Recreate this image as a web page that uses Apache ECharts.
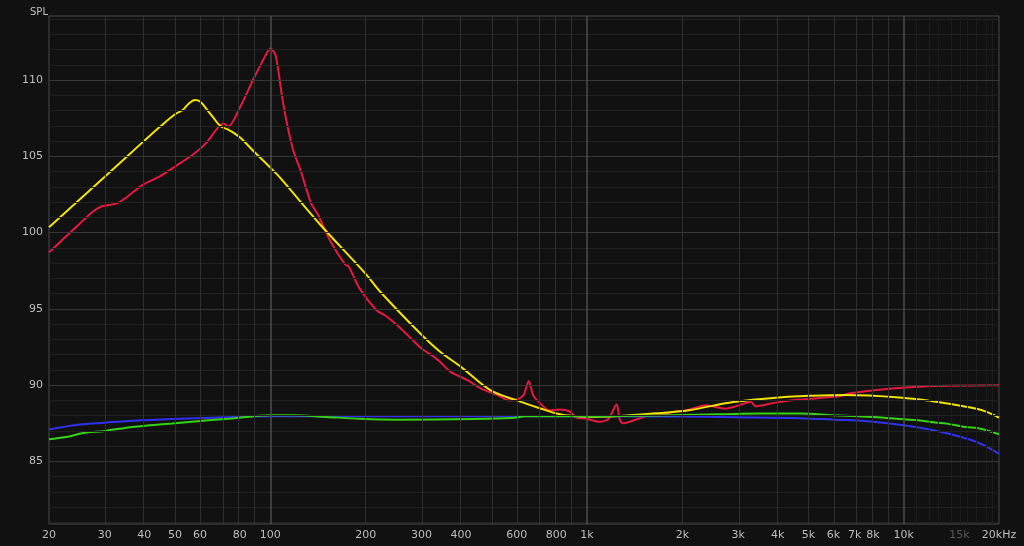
<!DOCTYPE html>
<html>
<head>
<meta charset="utf-8">
<script src="https://cdn.jsdelivr.net/npm/echarts@6/dist/echarts.min.js"></script>
<style>
html,body{margin:0;padding:0;background:#111111;}
#chart{width:1024px;height:546px;}
</style>
</head>
<body>
<div id="chart"></div>
<script>
// ---- Data (frequency in Hz, SPL in dB) ----
const redFreq = [20,23.9,27.6,29.4,32.6,35.1,39.3,44.9,50.6,56.9,62.9,67.8,71.1,73.7,80.6,88.4,90.6,97,100,104,108.8,112.7,118.3,124.5,134.3,141.2,156,172.5,176.8,191,216,233,257.5,285,300,323,343.6,371,419,463,524,565,600,630,655,676,713,760,820,880,920,995,1100,1170,1240,1270,1300,1410,1500,1620,1700,1870,2070,2370,2740,2900,3300,3400,3900,4700,6300,6700,7700,9700,12400,20000];
const redSPL  = [98.7,100.2,101.4,101.73,101.9,102.3,103.1,103.7,104.4,105.1,105.9,106.8,107.15,106.95,108.3,110.07,110.5,111.7,112.09,111.6,108.97,107.2,105.35,104.1,101.95,101.2,99.3,97.9,97.78,96.36,94.93,94.5,93.73,92.85,92.4,91.97,91.53,90.87,90.33,89.78,89.34,89.0,89.06,89.34,90.28,89.34,88.79,88.35,88.4,88.29,87.9,87.8,87.6,87.8,88.75,87.7,87.5,87.7,87.9,88.14,88.03,88.25,88.36,88.68,88.46,88.57,88.9,88.62,88.84,89.06,89.28,89.45,89.62,89.82,89.95,90.0];

const yellowFreq = [20,30,40,45,50,53,55,57.8,60,62.9,66,69.4,73,76.4,80.6,88.4,100,107.3,143.6,200,222,297,343.6,400,495,600,713,820,940,1000,1200,1620,2100,2900,4200,5000,6500,9700,12800,15900,18000,20000];
const yellowSPL  = [100.35,103.66,106.03,106.97,107.76,108.05,108.42,108.7,108.6,108.1,107.55,107.0,106.78,106.56,106.2,105.35,104.26,103.6,100.53,97.3,96.14,93.4,92.19,91.2,89.67,89.0,88.47,88.1,87.96,87.92,87.95,88.14,88.36,88.9,89.23,89.3,89.35,89.19,88.9,88.57,88.3,87.88];

const blueFreq = [20,25,30,37,49,69,100,210,610,2000,2900,4700,6000,7700,10000,12400,15200,17500,20000];
const blueSPL  = [87.1,87.42,87.54,87.67,87.78,87.88,87.96,87.96,87.96,87.94,87.9,87.84,87.74,87.63,87.37,87.04,86.6,86.16,85.5];

const greenFreq = [20,22.6,25.7,30,36.8,49,60,74,100,118,150,192,250,440,580,640,950,1500,2640,3500,4700,6000,7200,8500,10000,11100,12600,13700,15600,17500,20000];
const greenSPL  = [86.45,86.6,86.86,87.0,87.26,87.48,87.65,87.8,88.03,88.03,87.92,87.8,87.74,87.78,87.85,87.96,87.96,88.0,88.09,88.14,88.14,88.03,87.96,87.88,87.76,87.7,87.55,87.48,87.26,87.15,86.78];

// ---- Tick labels ----
const xTickFreqs  = [20,30,40,50,60,80,100,200,300,400,600,800,1000,2000,3000,4000,5000,6000,7000,8000,10000,15000,20000];
const xTickLabels = ['20','30','40','50','60','80','100','200','300','400','600','800','1k','2k','3k','4k','5k','6k','7k','8k','10k','15k','20kHz'];
const yTickValues = [85,90,95,100,105,110];

// ---- Grid line positions ----
const gridMinorFreqs = [30,40,50,60,70,80,90,200,300,400,500,600,700,800,900,2000,3000,4000,5000,6000,7000,8000,9000];
const gridMajorFreqs = [100,1000,10000];
const gridFaintFreqs = [11000,12000,13000,14000,15000,16000,17000,18000,19000];
const gridMinorDB = [81,82,83,84,86,87,88,89,91,92,93,94,96,97,98,99,101,102,103,104,106,107,108,109,111,112,113,114];
const gridMajorDB = [85,90,95,100,105,110];

const L = Math.log10;
function pairs(f, v){ return f.map((x,i)=>[L(x), v[i]]); }

const markData = [];
gridFaintFreqs.forEach(f=>markData.push({xAxis:L(f), lineStyle:{color:'#1c1c1c', width:1, type:'solid'}}));
gridMinorDB.forEach(d=>markData.push({yAxis:d, lineStyle:{color:'#212121', width:1, type:'solid'}}));
gridMinorFreqs.forEach(f=>markData.push({xAxis:L(f), lineStyle:{color:'#2f2f2f', width:1, type:'solid'}}));
gridMajorDB.forEach(d=>markData.push({yAxis:d, lineStyle:{color:'#373737', width:1, type:'solid'}}));
gridMajorFreqs.forEach(f=>markData.push({xAxis:L(f), lineStyle:{color:'#4c4c4c', width:1.5, type:'solid'}}));

const font = '"DejaVu Sans", sans-serif';
const chart = echarts.init(document.getElementById('chart'));
const lineSeries = (name, f, v, color, smooth) => ({
  name, type:'line', data: pairs(f,v), showSymbol:false, symbol:'none', smooth: smooth,
  lineStyle:{color, width:2}, itemStyle:{color}, z:3, silent:true
});

chart.setOption({
  backgroundColor:'#111111',
  animation:false,
  title:{text:'SPL', left:25, top:2, textStyle:{color:'#bdbdbd', fontSize:10, fontWeight:'normal', fontFamily:font}},
  grid:{left:49, right:25, top:16, bottom:22, show:true, backgroundColor:'#111111', borderColor:'#4a4a4a', borderWidth:1},
  xAxis:{
    type:'value', min:L(20), max:L(20000),
    axisLine:{show:false}, axisTick:{show:false}, splitLine:{show:false},
    axisLabel:{
      customValues: xTickFreqs.map(L),
      color:'#bdbdbd', fontSize:11, fontFamily:font, margin:6, hideOverlap:false,
      showMinLabel:true, showMaxLabel:true,
      formatter:function(v){
        let idx = 0, best = 1e9;
        xTickFreqs.forEach((f,i)=>{ const d=Math.abs(L(f)-v); if(d<best){best=d; idx=i;} });
        const t = xTickLabels[idx];
        return t === '15k' ? '{dim|' + t + '}' : t;
      },
      rich:{dim:{color:'#5a5a5a', fontSize:11, fontFamily:font}}
    }
  },
  yAxis:{
    type:'value', min:80.9, max:114.2,
    axisLine:{show:false}, axisTick:{show:false}, splitLine:{show:false},
    axisLabel:{customValues: yTickValues, color:'#bdbdbd', fontSize:11, fontFamily:font, margin:6}
  },
  series:[
    {type:'line', data:[], z:1, silent:true,
     markLine:{silent:true, symbol:['none','none'], animation:false, label:{show:false}, emphasis:{disabled:true}, data:markData}},
    lineSeries('red', redFreq, redSPL, '#e8173f', 0.25),
    lineSeries('yellow', yellowFreq, yellowSPL, '#f3e300', 0.35),
    lineSeries('blue', blueFreq, blueSPL, '#3030f0', 0.35),
    lineSeries('green', greenFreq, greenSPL, '#33d414', 0.35)
  ]
});
</script>
</body>
</html>
